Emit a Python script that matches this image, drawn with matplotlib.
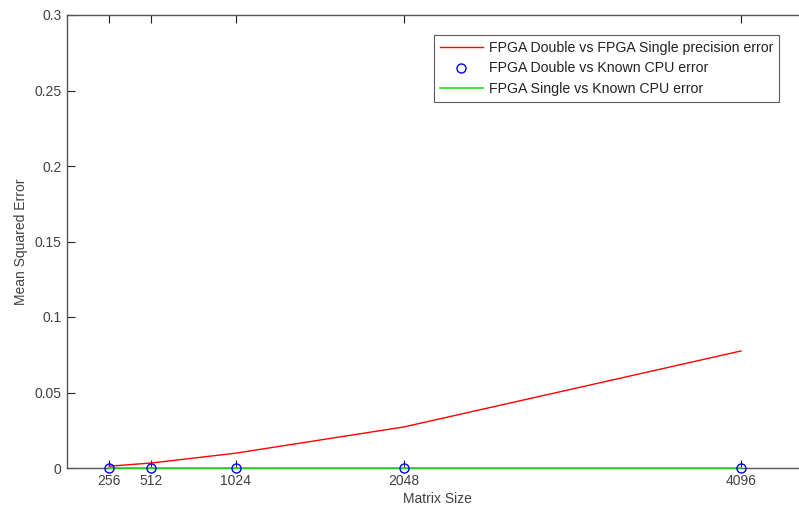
import matplotlib
matplotlib.use("Agg")
import matplotlib.pyplot as plt

plt.rcParams['font.family'] = ['Liberation Sans', 'DejaVu Sans']

matrix_sizes = [256, 512, 1024, 2048, 4096]
double_vs_single = [0.0012, 0.0033, 0.0098, 0.0272, 0.0775]
double_vs_cpu = [0.0, 0.0, 0.0, 0.0, 0.0]
single_vs_cpu = [0.0, 0.0, 0.0, 0.0, 0.0]
y_ticks = [0, 0.05, 0.1, 0.15, 0.2, 0.25, 0.3]
y_tick_labels = ['0', '0.05', '0.1', '0.15', '0.2', '0.25', '0.3']

fig = plt.figure(figsize=(7.99, 5.05), dpi=100)
ax = fig.add_axes([67/799, 37/505, (807.5-67)/799, (468-15)/505])

ax.plot(matrix_sizes, double_vs_single, color='#ff0000', lw=1.0,
        label='FPGA Double vs FPGA Single precision error', zorder=5, clip_on=False)
ax.plot(matrix_sizes, double_vs_cpu, linestyle='none', marker='o', ms=6.5,
        mfc='none', mec='#0000ff', mew=1.0,
        label='FPGA Double vs Known CPU error', zorder=6, clip_on=False)
ax.plot(matrix_sizes, single_vs_cpu, color='#22dd22', lw=1.2,
        label='FPGA Single vs Known CPU error', zorder=5, clip_on=False)

ax.set_xlim(0, 4500)
ax.set_ylim(0, 0.3)
ax.set_xticks(matrix_sizes)
ax.set_xticklabels([str(v) for v in matrix_sizes])
ax.set_yticks(y_ticks)
ax.set_yticklabels(y_tick_labels)

txt = '#404040'
for s in ax.spines.values():
    s.set_color('#555555')
    s.set_linewidth(1.0)
ax.tick_params(direction='in', length=6, width=0.8, color='#222222',
               labelsize=10, labelcolor=txt, top=True, right=True)
ax.tick_params(axis='x', pad=4.5)
ax.tick_params(axis='y', pad=4)

ax.set_xlabel('Matrix Size', fontsize=10, color=txt, labelpad=2.5)
ax.set_ylabel('Mean Squared Error', fontsize=10, color=txt, labelpad=4.5)

leg = ax.legend(loc='upper left', bbox_to_anchor=(434/799, (505-35)/505),
                bbox_transform=fig.transFigure, fontsize=10.2,
                frameon=True, fancybox=False, borderpad=0.4,
                handlelength=3.05, handletextpad=0.4, labelspacing=0.48,
                borderaxespad=0)
leg.get_frame().set_edgecolor('#333333')
leg.get_frame().set_linewidth(0.8)
for t in leg.get_texts():
    t.set_color('#222222')

fig.savefig('out.png', dpi=100)
